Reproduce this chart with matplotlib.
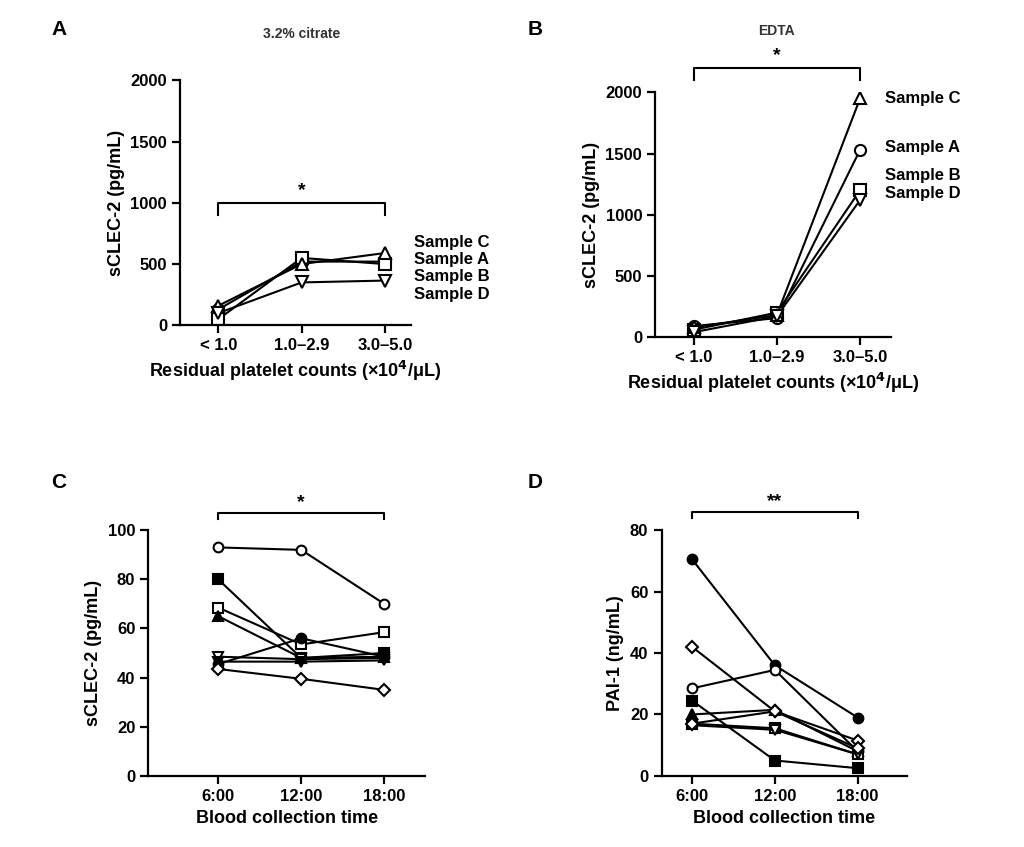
import matplotlib
matplotlib.use('Agg')
import matplotlib.pyplot as plt

plt.rcParams['font.family'] = ['Liberation Sans', 'DejaVu Sans']
plt.rcParams['font.weight'] = 'bold'
plt.rcParams['axes.labelweight'] = 'bold'

# panel A / B data: residual platelet counts
groups_ab = ['< 1.0', '1.0\u20132.9', '3.0\u20135.0']
samples = ['Sample A', 'Sample B', 'Sample C', 'Sample D']
markers_ab = ['o', 's', '^', 'v']
citrate = {'Sample A': [130, 520, 520], 'Sample B': [50, 550, 500],
           'Sample C': [160, 500, 590], 'Sample D': [100, 350, 365]}
edta = {'Sample A': [90, 155, 1530], 'Sample B': [60, 200, 1200],
        'Sample C': [80, 180, 1950], 'Sample D': [40, 170, 1120]}
label_y_a = {'Sample C': 680, 'Sample A': 540, 'Sample B': 400, 'Sample D': 250}
label_y_b = {'Sample C': 1950, 'Sample A': 1550, 'Sample B': 1320, 'Sample D': 1170}

# panel C / D data: blood collection time
times = ['6:00', '12:00', '18:00']
markers_cd = [('o', 'white'), ('s', 'black'), ('s', 'white'), ('^', 'black'),
              ('v', 'white'), ('o', 'black'), ('v', 'black'), ('D', 'white')]
sclec2 = [[93, 92, 70], [80, 48, 50], [68.5, 53.5, 58.5], [65, 48, 48.5],
          [48.5, 47.5, 48], [45.5, 56, 48.5], [46.5, 46.5, 47], [43.5, 39.5, 35]]
markers_d = [('o', 'black'), ('D', 'white'), ('o', 'white'), ('s', 'black'),
             ('^', 'black'), ('s', 'white'), ('v', 'white'), ('D', 'white')]
pai1 = [[70.5, 36, 19], [42, 21, 11.5], [28.5, 34.5, 8], [24.5, 5, 2.5],
        [20, 21.5, 8], [17, 15.5, 7], [16.5, 15, 7], [17, 21, 9]]

fig = plt.figure(figsize=(10.24, 8.47), dpi=100)


def style(ax, ymax, step, xlim, xlabel, ylabel, ticks):
    ax.set_xlim(*xlim)
    ax.set_ylim(0, ymax)
    ax.set_yticks(range(0, ymax + 1, step))
    ax.set_xticks(range(3))
    ax.set_xticklabels(ticks)
    ax.spines['top'].set_visible(False)
    ax.spines['right'].set_visible(False)
    for s in ('left', 'bottom'):
        ax.spines[s].set_linewidth(1.6)
    ax.tick_params(width=1.6, length=6, labelsize=12)
    ax.set_xlabel(xlabel, fontsize=13)
    ax.set_ylabel(ylabel, fontsize=13)


def bracket(ax, y, h, text):
    ax.plot([0, 0, 2, 2], [y - h, y, y, y - h], color='black', lw=1.5, clip_on=False)
    ax.text(1, y + h * 0.3, text, ha='center', va='bottom', fontsize=14)


# A
axA = fig.add_axes([0.176, 0.616, 0.225, 0.289])
for s, m in zip(samples, markers_ab):
    axA.plot(range(3), citrate[s], color='black', lw=1.5, marker=m, ms=8,
             mfc='white', mec='black', mew=1.5)
    axA.text(2.35, label_y_a[s], s, fontsize=12, va='center', clip_on=False)
style(axA, 2000, 500, (-0.46, 2.31), 'Residual platelet counts (×10$^4$/μL)',
      'sCLEC-2 (pg/mL)', groups_ab)
bracket(axA, 1000, 100, '*')
axA.text(1, 2350, '3.2% citrate', ha='center', fontsize=10, color='#333333')

# B
axB = fig.add_axes([0.64, 0.602, 0.23, 0.289])
for s, m in zip(samples, markers_ab):
    axB.plot(range(3), edta[s], color='black', lw=1.5, marker=m, ms=8,
             mfc='white', mec='black', mew=1.5)
    axB.text(2.3, label_y_b[s], s, fontsize=12, va='center', clip_on=False)
style(axB, 2000, 500, (-0.46, 2.37), 'Residual platelet counts (×10$^4$/μL)',
      'sCLEC-2 (pg/mL)', groups_ab)
bracket(axB, 2200, 100, '*')
axB.text(1, 2470, 'EDTA', ha='center', fontsize=10, color='#333333')

# C
axC = fig.add_axes([0.145, 0.084, 0.27, 0.29])
for vals, (m, fc) in zip(sclec2, markers_cd):
    axC.plot(range(3), vals, color='black', lw=1.5, marker=m,
             ms=7 if m != 'D' else 6, mfc=fc, mec='black', mew=1.5)
style(axC, 100, 20, (-0.84, 2.49), 'Blood collection time', 'sCLEC-2 (pg/mL)', times)
bracket(axC, 107, 2.5, '*')

# D
axD = fig.add_axes([0.646, 0.084, 0.24, 0.29])
for vals, (m, fc) in zip(pai1, markers_d):
    axD.plot(range(3), vals, color='black', lw=1.5, marker=m,
             ms=7 if m != 'D' else 6, mfc=fc, mec='black', mew=1.5)
style(axD, 80, 20, (-0.37, 2.6), 'Blood collection time', 'PAI-1 (ng/mL)', times)
bracket(axD, 86, 2, '**')

for lab, x, y in [('A', 0.05, 0.965), ('B', 0.515, 0.965), ('C', 0.05, 0.43), ('D', 0.515, 0.43)]:
    fig.text(x, y, lab, fontsize=15, fontweight='bold', va='center')

fig.savefig('out.png', dpi=100)
